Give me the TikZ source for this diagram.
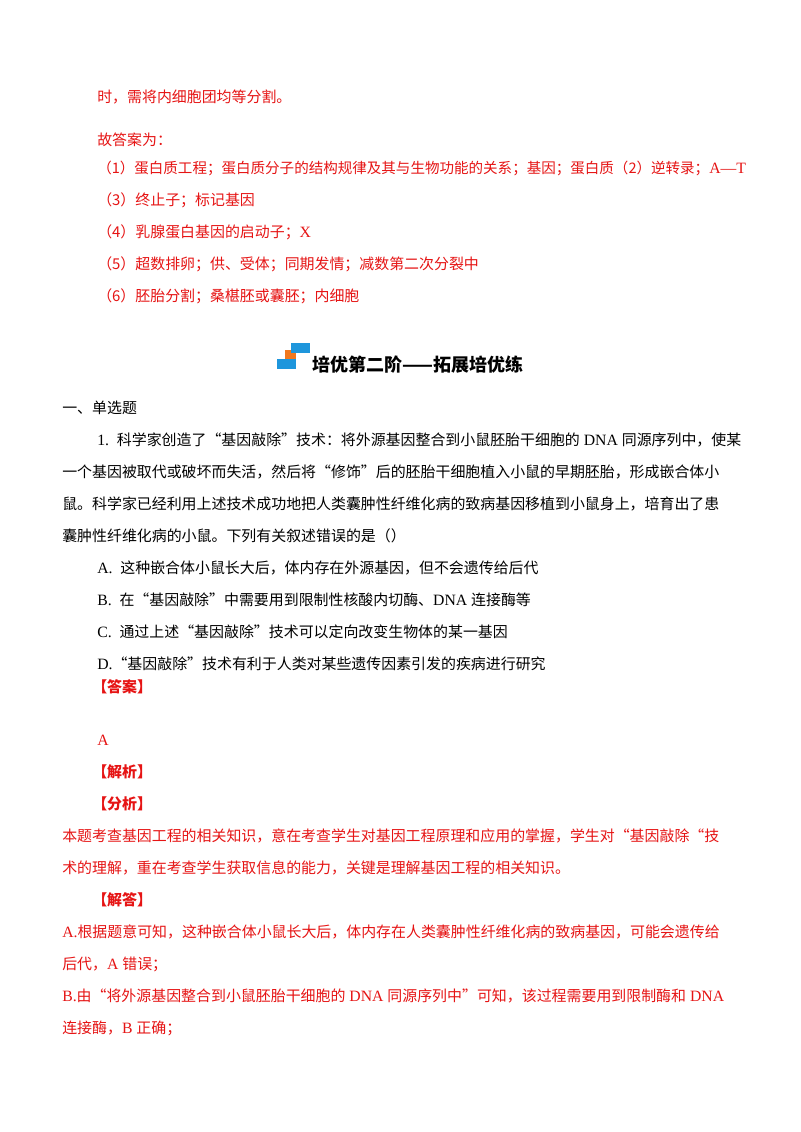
\documentclass[tikz,border=0pt]{standalone}
\usepackage{fontspec}
\setmainfont{Liberation Serif}
\newfontfamily\cjk{Noto Sans CJK SC}
\usetikzlibrary{positioning}
\definecolor{ansred}{RGB}{230,20,20}
\definecolor{iconblue}{RGB}{30,150,220}
\definecolor{iconorange}{RGB}{240,120,30}
\newcommand{\lat}[1]{{\rmfamily\fontsize{11.8}{13}\selectfont #1}}
\tikzset{
  line/.style={anchor=west,inner sep=0pt,font=\cjk\fontsize{11.2}{13}\selectfont},
  red line/.style={line,text=ansred},
  head/.style={red line,font=\cjk\bfseries\fontsize{11.2}{13}\selectfont},
}
\begin{document}
\begin{tikzpicture}[x=0.75pt,y=-0.75pt]
\useasboundingbox[fill=white] (0,0) rectangle (800,1132);

% answers of the previous question
\node[red line] (a0) at (97,97) {时，需将内细胞团均等分割。};
\node[red line] (a1) at (97,140) {故答案为：};
\node[red line,font=\cjk\fontsize{10.9}{13}\selectfont] (a2) at (97,168) {（1）蛋白质工程；蛋白质分子的结构规律及其与生物功能的关系；基因；蛋白质（2）逆转录；\lat{A—T}};
\node[red line] (a3) at (97,200) {（3）终止子；标记基因};
\node[red line] (a4) at (97,232) {（4）乳腺蛋白基因的启动子；\lat{X}};
\node[red line] (a5) at (97,264) {（5）超数排卵；供、受体；同期发情；减数第二次分裂中};
\node[red line] (a6) at (97,296) {（6）胚胎分割；桑椹胚或囊胚；内细胞};

% section title
\fill[iconorange] (285,350) rectangle (296,361);
\fill[iconblue] (291,343) rectangle (310,353);
\fill[iconblue] (277,359) rectangle (296,369);
\node[line,font=\cjk\bfseries\fontsize{13.5}{15}\selectfont] (title) at (312,365) {培优第二阶——拓展培优练};

% question
\node[line] (sec) at (62,408) {一、单选题};
\node[line] (q1) at (97,440) {\lat{1.\ \ }科学家创造了“基因敲除”技术：将外源基因整合到小鼠胚胎干细胞的\lat{ DNA }同源序列中，使某};
\node[line] (q2) at (62,472) {一个基因被取代或破坏而失活，然后将“修饰”后的胚胎干细胞植入小鼠的早期胚胎，形成嵌合体小};
\node[line] (q3) at (62,504) {鼠。科学家已经利用上述技术成功地把人类囊肿性纤维化病的致病基因移植到小鼠身上，培育出了患};
\node[line] (q4) at (62,536) {囊肿性纤维化病的小鼠。下列有关叙述错误的是（）};
\node[line] (oA) at (97,568) {\lat{A.\ \ }这种嵌合体小鼠长大后，体内存在外源基因，但不会遗传给后代};
\node[line] (oB) at (97,600) {\lat{B.\ \ }在“基因敲除”中需要用到限制性核酸内切酶、\lat{DNA }连接酶等};
\node[line] (oC) at (97,632) {\lat{C.\ \ }通过上述“基因敲除”技术可以定向改变生物体的某一基因};
\node[line] (oD) at (97,664) {\lat{D.}“基因敲除”技术有利于人类对某些遗传因素引发的疾病进行研究};

% answer and analysis
\node[head] (h1) at (92,687) {【答案】};
\node[red line] (ans) at (97,740) {\lat{A}};
\node[head] (h2) at (92,772) {【解析】};
\node[head] (h3) at (92,804) {【分析】};
\node[red line] (f1) at (62,836) {本题考查基因工程的相关知识，意在考查学生对基因工程原理和应用的掌握，学生对“基因敲除“技};
\node[red line] (f2) at (62,868) {术的理解，重在考查学生获取信息的能力，关键是理解基因工程的相关知识。};
\node[head] (h4) at (92,900) {【解答】};
\node[red line] (s1) at (62,932) {\lat{A.}根据题意可知，这种嵌合体小鼠长大后，体内存在人类囊肿性纤维化病的致病基因，可能会遗传给};
\node[red line] (s2) at (62,964) {后代，\lat{A }错误；};
\node[red line] (s3) at (62,996) {\lat{B.}由“将外源基因整合到小鼠胚胎干细胞的\lat{ DNA }同源序列中”可知，该过程需要用到限制酶和\lat{ DNA}};
\node[red line] (s4) at (62,1028) {连接酶，\lat{B }正确；};
\end{tikzpicture}
\end{document}
